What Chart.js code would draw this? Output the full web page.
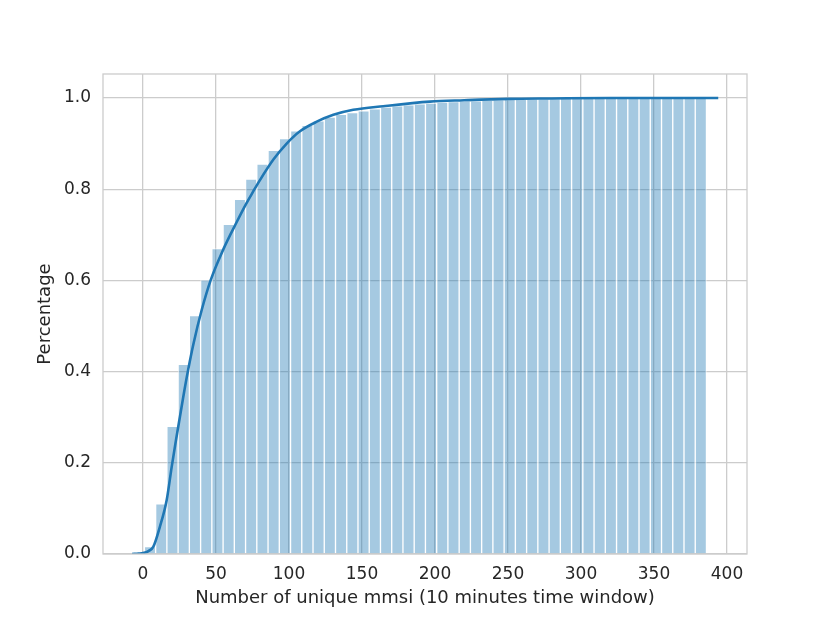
<!DOCTYPE html>
<html>
<head>
<meta charset="utf-8">
<script src="https://cdn.jsdelivr.net/npm/chart.js@4"></script>
<style>
  body { margin: 0; background: #ffffff; }
  canvas { display: block; }
</style>
</head>
<body>
<canvas id="mmsiCanvas" width="830" height="623"></canvas>
<script>
// histogram bins (centres) and cumulative share per bin
var binCenters = [
  4.8, 12.5, 20.2, 27.9, 35.6, 43.3, 51.0, 58.7, 66.4, 74.1,
  81.8, 89.5, 97.2, 104.9, 112.6, 120.3, 128.0, 135.7, 143.4, 151.1,
  158.8, 166.5, 174.2, 181.9, 189.6, 197.3, 205.0, 212.7, 220.4, 228.1,
  235.8, 243.5, 251.2, 258.9, 266.6, 274.3, 282.0, 289.7, 297.4, 305.1,
  312.8, 320.5, 328.2, 335.9, 343.6, 351.3, 359.0, 366.7, 374.4, 382.1
];
var binCumulative = [
  0.016, 0.110, 0.280, 0.416, 0.523, 0.601, 0.670, 0.723, 0.778, 0.822,
  0.855, 0.885, 0.911, 0.928, 0.940, 0.950, 0.958, 0.964, 0.968, 0.972,
  0.976, 0.980, 0.983, 0.985, 0.987, 0.989, 0.991, 0.992, 0.993, 0.994,
  0.995, 0.996, 0.997, 0.997, 0.998, 0.998, 0.998, 0.999, 0.999, 0.999,
  0.999, 0.999, 1.000, 1.000, 1.000, 1.000, 1.000, 1.000, 1.000, 1.000
];

// cumulative KDE curve
var kdeX = [
  -7.5, -3, 0, 4, 7.1, 11.6, 16.2, 19.6, 22.6, 27.6,
  31, 34.5, 40.2, 46.3, 55, 64.2, 71, 75.5, 80.1, 89.3,
  98.4, 107.5, 119, 130.4, 144, 164.6, 196.6, 220, 250, 280,
  320, 394
];
var kdeY = [
  0.000, 0.001, 0.002, 0.007, 0.016, 0.060, 0.118, 0.190, 0.250, 0.345,
  0.405, 0.460, 0.535, 0.600, 0.668, 0.728, 0.770, 0.795, 0.820, 0.865,
  0.900, 0.927, 0.948, 0.963, 0.974, 0.982, 0.992, 0.995, 0.998, 0.999,
  1.000, 1.000
];

var xTicks = [0, 50, 100, 150, 200, 250, 300, 350, 400];
var yTicks = [0.0, 0.2, 0.4, 0.6, 0.8, 1.0];

var blue = "#1f77b4";
var gridGray = "#cccccc";
var textDark = "#262626";

var frame = {
  id: "frame",
  afterDraw: function (chart) {
    var a = chart.chartArea;
    var ctx = chart.ctx;
    ctx.save();
    ctx.strokeStyle = gridGray;
    ctx.lineWidth = 1.3;
    ctx.strokeRect(a.left, a.top, a.right - a.left, a.bottom - a.top);
    ctx.restore();
  }
};

new Chart(document.getElementById("mmsiCanvas"), {
  data: {
    datasets: [
      {
        type: "line",
        data: kdeX.map(function (x, i) { return { x: x, y: kdeY[i] }; }),
        borderColor: blue,
        borderWidth: 2.6,
        pointRadius: 0,
        cubicInterpolationMode: "monotone",
        fill: false,
        order: 0
      },
      {
        type: "bar",
        data: binCenters.map(function (x, i) { return { x: x, y: binCumulative[i] }; }),
        backgroundColor: "rgba(31,119,180,0.4)",
        borderColor: "rgba(255,255,255,0.55)",
        borderWidth: 1,
        barPercentage: 1,
        categoryPercentage: 1,
        order: 1
      }
    ]
  },
  options: {
    responsive: false,
    animation: false,
    devicePixelRatio: 1,
    layout: { padding: { top: 74, right: 83, left: 0, bottom: 0 } },
    plugins: {
      legend: { display: false },
      tooltip: { enabled: false }
    },
    scales: {
      x: {
        type: "linear",
        offset: false,
        min: -27.4,
        max: 413.7,
        afterFit: function (s) { s.height = 69; },
        afterBuildTicks: function (s) { s.ticks = xTicks.map(function (v) { return { value: v }; }); },
        grid: { color: gridGray, lineWidth: 1.3, drawTicks: false, offset: false },
        border: { display: false },
        ticks: {
          padding: 10,
          color: textDark,
          font: { family: "DejaVu Sans", size: 17 },
          maxRotation: 0
        },
        title: {
          display: true,
          text: "Number of unique mmsi (10 minutes time window)",
          color: textDark,
          font: { family: "DejaVu Sans", size: 18 },
          padding: { top: 0, bottom: 14 }
        }
      },
      y: {
        type: "linear",
        min: 0,
        max: 1.0526,
        afterFit: function (s) { s.width = 103; },
        afterBuildTicks: function (s) { s.ticks = yTicks.map(function (v) { return { value: v }; }); },
        grid: { color: gridGray, lineWidth: 1.3, drawTicks: false },
        border: { display: false },
        ticks: {
          padding: 12,
          color: textDark,
          font: { family: "DejaVu Sans", size: 17 },
          callback: function (v) { return v.toFixed(1); }
        },
        title: {
          display: true,
          text: "Percentage",
          color: textDark,
          font: { family: "DejaVu Sans", size: 18 },
          padding: { top: 35, bottom: 0 }
        }
      }
    }
  },
  plugins: [frame]
});
</script>
</body>
</html>
